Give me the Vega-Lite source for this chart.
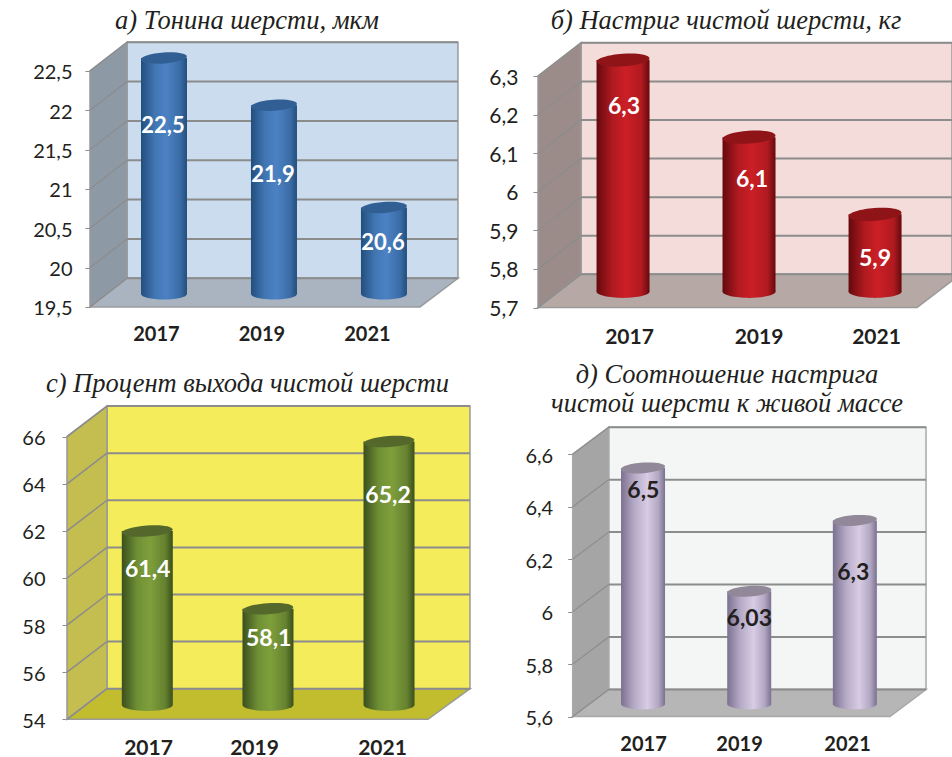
{
"$schema":"https://vega.github.io/schema/vega-lite/v6.json",
"padding":0,
"background":"white",
"bounds":"flush",
"spacing":0,
"columns":2,
"resolve":{"scale":{"color":"independent"}},
"config":{"view":{"stroke":null},
"axis":{"domain":false,"grid":false,"labelFont":"Lato","labelColor":"#231f20","labelOverlap":false,"labelBound":false,"labelFlush":false},
"axisX":{"ticks":false,"tickSize":0,"labelPadding":0,"labelFontWeight":"bold","labelBaseline":"middle"},
"axisY":{"ticks":true,"tickSize":5,"tickColor":"#8c8c8c","labelBaseline":"middle","labelOffset":2},
"text":{"dy":2},
"title":{"font":"Liberation Serif","fontStyle":"italic","fontWeight":"normal","color":"#231f20","anchor":"middle","frame":"group","offset":0,"baseline":"alphabetic","lineHeight":29}},
"datasets":{
"a_bars":[
{"year":2017,"value":22.5,"base":19.5,"x_bar":2017.152,"x_label":2017.133,"y_label":21.83,"label":"22,5"},
{"year":2019,"value":21.9,"base":19.5,"x_bar":2019.237,"x_label":2019.218,"y_label":21.2,"label":"21,9"},
{"year":2021,"value":20.6,"base":19.5,"x_bar":2021.322,"x_label":2021.303,"y_label":20.34,"label":"20,6"}],
"a_grid":[
{"tick":19.5,"back":19.865,"f":2015.749,"b":2016.451,"r":2022.725},{"tick":20,"back":20.365,"f":2015.749,"b":2016.451,"r":2022.725},{"tick":20.5,"back":20.865,"f":2015.749,"b":2016.451,"r":2022.725},{"tick":21,"back":21.365,"f":2015.749,"b":2016.451,"r":2022.725},{"tick":21.5,"back":21.865,"f":2015.749,"b":2016.451,"r":2022.725},{"tick":22,"back":22.365,"f":2015.749,"b":2016.451,"r":2022.725},{"tick":22.5,"back":22.865,"f":2015.749,"b":2016.451,"r":2022.725}],
"a_walls":[
{"part":"wall","px":2016.451,"top":22.865,"bottom":19.865},{"part":"wall","px":2022.725,"top":22.865,"bottom":19.865},
{"part":"side","px":2015.749,"top":22.5,"bottom":19.5},{"part":"side","px":2016.451,"top":22.865,"bottom":19.865},
{"part":"floor","px":2015.749,"top":19.5,"bottom":19.5},{"part":"floor","px":2016.451,"top":19.865,"bottom":19.5},{"part":"floor","px":2022.005,"top":19.865,"bottom":19.5},{"part":"floor","px":2022.725,"top":19.865,"bottom":19.865}],
"b_bars":[
{"year":2017,"value":6.3,"base":5.7,"x_bar":2016.903,"x_label":2016.919,"y_label":6.225,"label":"6,3"},
{"year":2019,"value":6.1,"base":5.7,"x_bar":2018.943,"x_label":2018.992,"y_label":6.036,"label":"6,1"},
{"year":2021,"value":5.9,"base":5.7,"x_bar":2020.984,"x_label":2020.984,"y_label":5.831,"label":"5,9"}],
"b_grid":[
{"tick":5.7,"back":5.786,"f":2015.526,"b":2016.223,"r":2022.23},{"tick":5.8,"back":5.886,"f":2015.526,"b":2016.223,"r":2022.23},{"tick":5.9,"back":5.986,"f":2015.526,"b":2016.223,"r":2022.23},{"tick":6,"back":6.086,"f":2015.526,"b":2016.223,"r":2022.23},{"tick":6.1,"back":6.186,"f":2015.526,"b":2016.223,"r":2022.23},{"tick":6.2,"back":6.286,"f":2015.526,"b":2016.223,"r":2022.23},{"tick":6.3,"back":6.386,"f":2015.526,"b":2016.223,"r":2022.23}],
"b_walls":[
{"part":"wall","px":2016.223,"top":6.386,"bottom":5.786},{"part":"wall","px":2022.23,"top":6.386,"bottom":5.786},
{"part":"side","px":2015.526,"top":6.3,"bottom":5.7},{"part":"side","px":2016.223,"top":6.386,"bottom":5.786},
{"part":"floor","px":2015.526,"top":5.7,"bottom":5.7},{"part":"floor","px":2016.223,"top":5.786,"bottom":5.7},{"part":"floor","px":2021.664,"top":5.786,"bottom":5.7},{"part":"floor","px":2022.23,"top":5.786,"bottom":5.769}],
"c_bars":[
{"year":2017,"value":61.4,"base":54,"x_bar":2016.988,"x_label":2016.995,"y_label":60.41,"label":"61,4"},
{"year":2019,"value":58.1,"base":54,"x_bar":2019.051,"x_label":2019.063,"y_label":57.48,"label":"58,1"},
{"year":2021,"value":65.2,"base":54,"x_bar":2021.12,"x_label":2021.103,"y_label":63.57,"label":"65,2"}],
"c_grid":[
{"tick":54,"back":55.3,"f":2015.615,"b":2016.299,"r":2022.504},{"tick":56,"back":57.3,"f":2015.615,"b":2016.299,"r":2022.504},{"tick":58,"back":59.3,"f":2015.615,"b":2016.299,"r":2022.504},{"tick":60,"back":61.3,"f":2015.615,"b":2016.299,"r":2022.504},{"tick":62,"back":63.3,"f":2015.615,"b":2016.299,"r":2022.504},{"tick":64,"back":65.3,"f":2015.615,"b":2016.299,"r":2022.504},{"tick":66,"back":67.3,"f":2015.615,"b":2016.299,"r":2022.504}],
"c_walls":[
{"part":"wall","px":2016.299,"top":67.3,"bottom":55.3},{"part":"wall","px":2022.504,"top":67.3,"bottom":55.3},
{"part":"side","px":2015.615,"top":66,"bottom":54},{"part":"side","px":2016.299,"top":67.3,"bottom":55.3},
{"part":"floor","px":2015.615,"top":54,"bottom":54},{"part":"floor","px":2016.299,"top":55.3,"bottom":54},{"part":"floor","px":2021.786,"top":55.3,"bottom":54},{"part":"floor","px":2022.504,"top":55.3,"bottom":55.3}],
"d_bars":[
{"year":2017,"value":6.5,"base":5.6,"x_bar":2017,"x_label":2017.006,"y_label":6.467,"label":"6,5"},
{"year":2019,"value":6.03,"base":5.6,"x_bar":2019.082,"x_label":2019.084,"y_label":5.981,"label":"6,03"},
{"year":2021,"value":6.3,"base":5.6,"x_bar":2021.153,"x_label":2021.123,"y_label":6.156,"label":"6,3"}],
"d_grid":[
{"tick":5.6,"back":5.703,"f":2015.621,"b":2016.327,"r":2022.549},{"tick":5.8,"back":5.903,"f":2015.621,"b":2016.327,"r":2022.549},{"tick":6,"back":6.103,"f":2015.621,"b":2016.327,"r":2022.549},{"tick":6.2,"back":6.303,"f":2015.621,"b":2016.327,"r":2022.549},{"tick":6.4,"back":6.503,"f":2015.621,"b":2016.327,"r":2022.549},{"tick":6.6,"back":6.703,"f":2015.621,"b":2016.327,"r":2022.549}],
"d_walls":[
{"part":"wall","px":2016.327,"top":6.703,"bottom":5.703},{"part":"wall","px":2022.549,"top":6.703,"bottom":5.703},
{"part":"side","px":2015.621,"top":6.6,"bottom":5.6},{"part":"side","px":2016.327,"top":6.703,"bottom":5.703},
{"part":"floor","px":2015.621,"top":5.6,"bottom":5.6},{"part":"floor","px":2016.327,"top":5.703,"bottom":5.6},{"part":"floor","px":2021.843,"top":5.703,"bottom":5.6},{"part":"floor","px":2022.549,"top":5.703,"bottom":5.703}]
},
"concat":[
{"width":476,"height":350,
"title":{"text":"а) Тонина шерсти, мкм","fontSize":26.5,"dx":9,"dy":38},
"layer":[
{"data":{"name":"a_walls"},"mark":{"type":"area","orient":"vertical","stroke":"#9a9a9a","strokeWidth":1.5},
"encoding":{
"x":{"field":"px","type":"quantitative","scale":{"domain":[2014.043,2023.067],"nice":false,"zero":false,"padding":0},
"axis":{"values":[2017,2019,2021],"format":"d","title":null,"offset":-16,"labelFontSize":20}},
"y":{"field":"top","type":"quantitative","scale":{"domain":[18.953,23.402],"nice":false,"zero":false},
"axis":{"values":[19.5,20,20.5,21,21.5,22,22.5],"format":"~g","labelExpr":"replace(datum.label,'.',',')","title":null,"offset":-90,"labelPadding":13,"labelFontSize":20}},
"y2":{"field":"bottom"},
"color":{"field":"part","type":"nominal","legend":null,"scale":{"domain":["wall","side","floor"],"range":["#cadcee","#8e99a6","#aab4c0"]}}}},
{"data":{"name":"a_grid"},"mark":{"type":"rule","color":"#8c8c8c","strokeWidth":1.2},
"encoding":{"x":{"field":"f","type":"quantitative"},"x2":{"field":"b"},"y":{"field":"tick","type":"quantitative"},"y2":{"field":"back"}}},
{"data":{"name":"a_grid"},"mark":{"type":"rule","color":"#8c8c8c","strokeWidth":2},
"encoding":{"x":{"field":"b","type":"quantitative"},"x2":{"field":"r"},"y":{"field":"back","type":"quantitative"}}},
{"data":{"name":"a_bars"},"mark":{"type":"point","filled":true,"opacity":1,"size":2116,"yOffset":-13,"shape":"M-1,0A1,0.24,0,1,1,1,0A1,0.24,0,1,1,-1,0Z","fill":{"gradient":"linear","x1":0,"x2":1,"y1":0,"y2":0,"stops":[{"offset":0,"color":"#234e7d"},{"offset":0.3,"color":"#4076b2"},{"offset":0.55,"color":"#4c82c4"},{"offset":0.85,"color":"#3a6ca6"},{"offset":1,"color":"#234e7d"}]}},
"encoding":{"x":{"field":"x_bar","type":"quantitative"},"y":{"field":"base","type":"quantitative"}}},
{"data":{"name":"a_bars"},"mark":{"type":"bar","orient":"vertical","width":46,"yOffset":-13,"y2Offset":-13,"fill":{"gradient":"linear","x1":0,"x2":1,"y1":0,"y2":0,"stops":[{"offset":0,"color":"#234e7d"},{"offset":0.3,"color":"#4076b2"},{"offset":0.55,"color":"#4c82c4"},{"offset":0.85,"color":"#3a6ca6"},{"offset":1,"color":"#234e7d"}]}},
"encoding":{"x":{"field":"x_bar","type":"quantitative"},"y":{"field":"value","type":"quantitative"},"y2":{"field":"base"}}},
{"data":{"name":"a_bars"},"mark":{"type":"point","filled":true,"opacity":1,"size":2116,"yOffset":-13,"angle":-4,"color":"#315f93","shape":"M-1,0A1,0.24,0,1,1,1,0A1,0.24,0,1,1,-1,0Z"},
"encoding":{"x":{"field":"x_bar","type":"quantitative"},"y":{"field":"value","type":"quantitative"}}},
{"data":{"name":"a_bars"},"mark":{"type":"text","font":"Lato","fontWeight":"bold","fontSize":22,"color":"white","baseline":"middle","dy":2},
"encoding":{"x":{"field":"x_label","type":"quantitative"},"y":{"field":"y_label","type":"quantitative"},"text":{"field":"label"}}}
]},
{"width":476,"height":350,
"title":{"text":"б) Настриг чистой шерсти, кг","fontSize":26.5,"dx":12,"dy":38},
"layer":[
{"data":{"name":"b_walls"},"mark":{"type":"area","orient":"vertical","stroke":"#9a9a9a","strokeWidth":1.5},
"encoding":{
"x":{"field":"px","type":"quantitative","scale":{"domain":[2014.522,2022.23],"nice":false,"zero":false,"padding":0},
"axis":{"values":[2017,2019,2021],"format":"d","title":null,"offset":-13,"labelFontSize":21,"labelOffset":{"condition":{"test":"datum.value==2019","value":6},"value":0}}},
"y":{"field":"top","type":"quantitative","scale":{"domain":[5.59,6.497],"nice":false,"zero":false},
"axis":{"values":[5.7,5.8,5.9,6,6.1,6.2,6.3],"format":"~g","labelExpr":"replace(datum.label,'.',',')","title":null,"offset":-62,"labelPadding":15,"labelFontSize":21}},
"y2":{"field":"bottom"},
"color":{"field":"part","type":"nominal","legend":null,"scale":{"domain":["wall","side","floor"],"range":["#f4dcdb","#9b8c8a","#b6a8a4"]}}}},
{"data":{"name":"b_grid"},"mark":{"type":"rule","color":"#8c8c8c","strokeWidth":1.2},
"encoding":{"x":{"field":"f","type":"quantitative"},"x2":{"field":"b"},"y":{"field":"tick","type":"quantitative"},"y2":{"field":"back"}}},
{"data":{"name":"b_grid"},"mark":{"type":"rule","color":"#8c8c8c","strokeWidth":2},
"encoding":{"x":{"field":"b","type":"quantitative"},"x2":{"field":"r"},"y":{"field":"back","type":"quantitative"}}},
{"data":{"name":"b_bars"},"mark":{"type":"point","filled":true,"opacity":1,"size":2809,"yOffset":-16,"shape":"M-1,0A1,0.24,0,1,1,1,0A1,0.24,0,1,1,-1,0Z","fill":{"gradient":"linear","x1":0,"x2":1,"y1":0,"y2":0,"stops":[{"offset":0,"color":"#65090d"},{"offset":0.3,"color":"#b01a20"},{"offset":0.55,"color":"#cc1f26"},{"offset":0.85,"color":"#b01a20"},{"offset":1,"color":"#65090d"}]}},
"encoding":{"x":{"field":"x_bar","type":"quantitative"},"y":{"field":"base","type":"quantitative"}}},
{"data":{"name":"b_bars"},"mark":{"type":"bar","orient":"vertical","width":53,"yOffset":-16,"y2Offset":-16,"fill":{"gradient":"linear","x1":0,"x2":1,"y1":0,"y2":0,"stops":[{"offset":0,"color":"#65090d"},{"offset":0.3,"color":"#b01a20"},{"offset":0.55,"color":"#cc1f26"},{"offset":0.85,"color":"#b01a20"},{"offset":1,"color":"#65090d"}]}},
"encoding":{"x":{"field":"x_bar","type":"quantitative"},"y":{"field":"value","type":"quantitative"},"y2":{"field":"base"}}},
{"data":{"name":"b_bars"},"mark":{"type":"point","filled":true,"opacity":1,"size":2809,"yOffset":-16,"angle":-4,"color":"#8e1418","shape":"M-1,0A1,0.24,0,1,1,1,0A1,0.24,0,1,1,-1,0Z"},
"encoding":{"x":{"field":"x_bar","type":"quantitative"},"y":{"field":"value","type":"quantitative"}}},
{"data":{"name":"b_bars"},"mark":{"type":"text","font":"Lato","fontWeight":"bold","fontSize":23,"color":"white","baseline":"middle","dy":2},
"encoding":{"x":{"field":"x_label","type":"quantitative"},"y":{"field":"y_label","type":"quantitative"},"text":{"field":"label"}}}
]},
{"width":476,"height":407,
"title":{"text":"с) Процент выхода чистой шерсти","fontSize":26.5,"dx":9.5,"dy":51},
"layer":[
{"data":{"name":"c_walls"},"mark":{"type":"area","orient":"vertical","stroke":"#9a9a9a","strokeWidth":1.5},
"encoding":{
"x":{"field":"px","type":"quantitative","scale":{"domain":[2014.47,2022.607],"nice":false,"zero":false,"padding":0},
"axis":{"values":[2017,2019,2021],"format":"d","title":null,"offset":-9,"labelFontSize":21,"labelOffset":{"condition":{"test":"datum.value==2019","value":-11},"value":0}}},
"y":{"field":"top","type":"quantitative","scale":{"domain":[52.4,69.68],"nice":false,"zero":false},
"axis":{"values":[54,56,58,60,62,64,66],"format":"~g","title":null,"offset":-67,"labelPadding":17,"labelFontSize":20}},
"y2":{"field":"bottom"},
"color":{"field":"part","type":"nominal","legend":null,"scale":{"domain":["wall","side","floor"],"range":["#f5ec5b","#c4bd50","#c2bd2e"]}}}},
{"data":{"name":"c_grid"},"mark":{"type":"rule","color":"#8c8c8c","strokeWidth":1.5},
"encoding":{"x":{"field":"f","type":"quantitative"},"x2":{"field":"b"},"y":{"field":"tick","type":"quantitative"},"y2":{"field":"back"}}},
{"data":{"name":"c_grid"},"mark":{"type":"rule","color":"#8c8c8c","strokeWidth":2},
"encoding":{"x":{"field":"b","type":"quantitative"},"x2":{"field":"r"},"y":{"field":"back","type":"quantitative"}}},
{"data":{"name":"c_bars"},"mark":{"type":"point","filled":true,"opacity":1,"size":2570,"yOffset":-14,"shape":"M-1,0A1,0.22,0,1,1,1,0A1,0.22,0,1,1,-1,0Z","fill":{"gradient":"linear","x1":0,"x2":1,"y1":0,"y2":0,"stops":[{"offset":0,"color":"#3a4f1d"},{"offset":0.3,"color":"#6f8f35"},{"offset":0.55,"color":"#7f9f3c"},{"offset":0.85,"color":"#65822f"},{"offset":1,"color":"#3a4f1d"}]}},
"encoding":{"x":{"field":"x_bar","type":"quantitative"},"y":{"field":"base","type":"quantitative"}}},
{"data":{"name":"c_bars"},"mark":{"type":"bar","orient":"vertical","width":51,"yOffset":-14,"y2Offset":-14,"fill":{"gradient":"linear","x1":0,"x2":1,"y1":0,"y2":0,"stops":[{"offset":0,"color":"#3a4f1d"},{"offset":0.3,"color":"#6f8f35"},{"offset":0.55,"color":"#7f9f3c"},{"offset":0.85,"color":"#65822f"},{"offset":1,"color":"#3a4f1d"}]}},
"encoding":{"x":{"field":"x_bar","type":"quantitative"},"y":{"field":"value","type":"quantitative"},"y2":{"field":"base"}}},
{"data":{"name":"c_bars"},"mark":{"type":"point","filled":true,"opacity":1,"size":2570,"yOffset":-14,"angle":-4,"color":"#54682c","shape":"M-1,0A1,0.22,0,1,1,1,0A1,0.22,0,1,1,-1,0Z"},
"encoding":{"x":{"field":"x_bar","type":"quantitative"},"y":{"field":"value","type":"quantitative"}}},
{"data":{"name":"c_bars"},"mark":{"type":"text","font":"Lato","fontWeight":"bold","fontSize":23,"color":"white","baseline":"middle","dy":2},
"encoding":{"x":{"field":"x_label","type":"quantitative"},"y":{"field":"y_label","type":"quantitative"},"text":{"field":"label"}}}
]},
{"width":476,"height":407,
"title":{"text":["д) Соотношение настрига","чистой шерсти к живой массе"],"fontSize":26.5,"dx":13,"dy":71},
"layer":[
{"data":{"name":"d_walls"},"mark":{"type":"area","orient":"vertical","stroke":"#a8a8a8","strokeWidth":1.5},
"encoding":{
"x":{"field":"px","type":"quantitative","scale":{"domain":[2013.725,2023.058],"nice":false,"zero":false,"padding":0},
"axis":{"values":[2017,2019,2021],"format":"d","title":null,"offset":-13,"labelFontSize":20,"labelOffset":{"condition":{"test":"datum.value==2019","value":-6},"value":0}}},
"y":{"field":"top","type":"quantitative","scale":{"domain":[5.446,6.997],"nice":false,"zero":false},
"axis":{"values":[5.6,5.8,6,6.2,6.4,6.6],"format":"~g","labelExpr":"replace(datum.label,'.',',')","title":null,"offset":-96.7,"labelPadding":15,"labelFontSize":20}},
"y2":{"field":"bottom"},
"color":{"field":"part","type":"nominal","legend":null,"scale":{"domain":["wall","side","floor"],"range":["#f3f6f5","#a5a5a5","#b6b6b6"]}}}},
{"data":{"name":"d_grid"},"mark":{"type":"rule","color":"#8c8c8c","strokeWidth":1.2},
"encoding":{"x":{"field":"f","type":"quantitative"},"x2":{"field":"b"},"y":{"field":"tick","type":"quantitative"},"y2":{"field":"back"}}},
{"data":{"name":"d_grid"},"mark":{"type":"rule","color":"#8c8c8c","strokeWidth":2},
"encoding":{"x":{"field":"b","type":"quantitative"},"x2":{"field":"r"},"y":{"field":"back","type":"quantitative"}}},
{"data":{"name":"d_bars"},"mark":{"type":"point","filled":true,"opacity":1,"size":1962,"yOffset":-12.5,"shape":"M-1,0A1,0.24,0,1,1,1,0A1,0.24,0,1,1,-1,0Z","fill":{"gradient":"linear","x1":0,"x2":1,"y1":0,"y2":0,"stops":[{"offset":0,"color":"#7b7190"},{"offset":0.3,"color":"#b5aac6"},{"offset":0.6,"color":"#d8cce4"},{"offset":0.85,"color":"#b2a7c2"},{"offset":1,"color":"#7b7190"}]}},
"encoding":{"x":{"field":"x_bar","type":"quantitative"},"y":{"field":"base","type":"quantitative"}}},
{"data":{"name":"d_bars"},"mark":{"type":"bar","orient":"vertical","width":44,"yOffset":-12.5,"y2Offset":-12.5,"fill":{"gradient":"linear","x1":0,"x2":1,"y1":0,"y2":0,"stops":[{"offset":0,"color":"#7b7190"},{"offset":0.3,"color":"#b5aac6"},{"offset":0.6,"color":"#d8cce4"},{"offset":0.85,"color":"#b2a7c2"},{"offset":1,"color":"#7b7190"}]}},
"encoding":{"x":{"field":"x_bar","type":"quantitative"},"y":{"field":"value","type":"quantitative"},"y2":{"field":"base"}}},
{"data":{"name":"d_bars"},"mark":{"type":"point","filled":true,"opacity":1,"size":1962,"yOffset":-12.5,"angle":-4,"color":"#918899","shape":"M-1,0A1,0.24,0,1,1,1,0A1,0.24,0,1,1,-1,0Z"},
"encoding":{"x":{"field":"x_bar","type":"quantitative"},"y":{"field":"value","type":"quantitative"}}},
{"data":{"name":"d_bars"},"mark":{"type":"text","font":"Lato","fontWeight":"bold","fontSize":23,"color":"#231f20","baseline":"middle","dy":2},
"encoding":{"x":{"field":"x_label","type":"quantitative"},"y":{"field":"y_label","type":"quantitative"},"text":{"field":"label"}}}
]}
]
}
